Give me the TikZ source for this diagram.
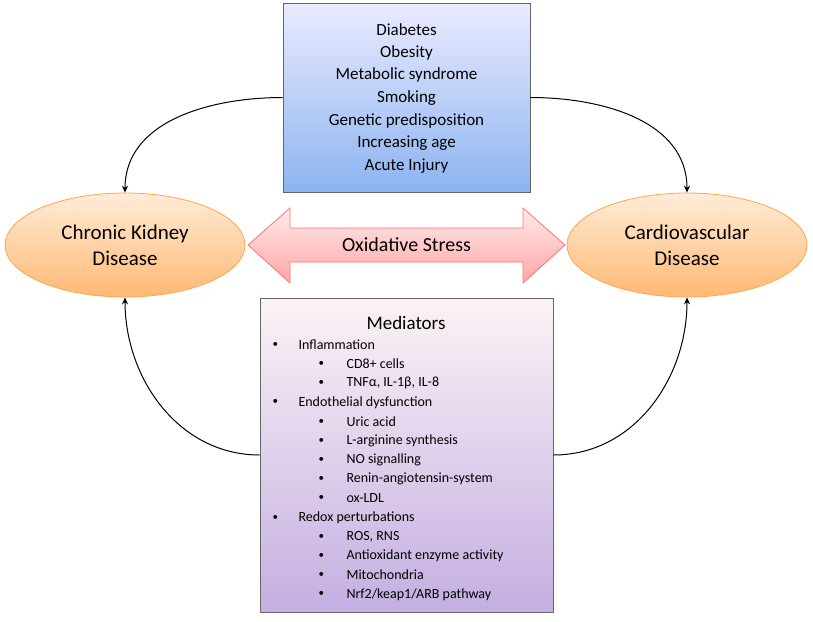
\documentclass[tikz,border=0pt]{standalone}
\usepackage{fontspec}
\setmainfont{Carlito}
\usetikzlibrary{shapes.geometric,arrows.meta}
\definecolor{boxblue}{RGB}{140,180,240}
\definecolor{boxpurple}{RGB}{195,175,225}
\begin{document}
\begin{tikzpicture}[x=1pt, y=-1pt]
    \tikzstyle{disease} = [ellipse, draw=orange!70!white, top color=orange!15, bottom color=orange!55, minimum width=240pt, minimum height=104pt, align=center, font=\fontsize{21}{26}\selectfont, line width=0.8pt]
    \tikzstyle{panel} = [rectangle, draw=gray!80!black, line width=0.6pt]
    \tikzstyle{link} = [-{Stealth[length=7pt,width=6pt]}, line width=1pt]
    \tikzstyle{itema} = [anchor=west, font=\fontsize{14}{16}\selectfont]
    \useasboundingbox (0,0) rectangle (813,621);

    \node (risk) [panel, minimum width=247pt, minimum height=189pt, top color=blue!8, bottom color=boxblue] at (406.5,97.5) {};
    \foreach \txt [count=\i] in {Diabetes, Obesity, Metabolic syndrome, Smoking, Genetic predisposition, Increasing age, Acute Injury}
        \node (r\i) [font=\fontsize{17}{19}\selectfont] at (406.5, 7.5+22.6*\i) {\txt};

    \node (ckd) [disease] at (125,245) {Chronic Kidney\\Disease};
    \node (cvd) [disease] at (687,245) {Cardiovascular\\Disease};

    % oxidative stress arrow
    \draw [draw=red!55!white, top color=red!8, bottom color=red!35, line width=0.8pt]
        (248,245) -- (290,208) -- (290,228) -- (523,228) -- (523,208) -- (565,245)
        -- (523,283) -- (523,262) -- (290,262) -- (290,283) -- cycle;
    \node (oxt) [font=\fontsize{20}{24}\selectfont] at (406.5,245) {Oxidative Stress};

    \node (med) [panel, minimum width=293pt, minimum height=314pt, top color=purple!5!white, bottom color=boxpurple] at (406.5,455) {};
    \node (medt) [font=\fontsize{19}{22}\selectfont] at (406,323) {Mediators};
    \foreach \lvl/\txt [count=\i] in {1/Inflammation, 2/CD8+ cells, 2/{TNFα, IL-1β, IL-8}, 1/Endothelial dysfunction, 2/Uric acid, 2/L-arginine synthesis, 2/NO signalling, 2/Renin-angiotensin-system, 2/ox-LDL, 1/Redox perturbations, 2/{ROS, RNS}, 2/Antioxidant enzyme activity, 2/Mitochondria, 2/{Nrf2/keap1/ARB pathway}}
    {
        \pgfmathsetmacro{\bx}{\lvl==1 ? 272 : 318}
        \pgfmathsetmacro{\tx}{\lvl==1 ? 298 : 346}
        \node (b\i) [itema, font=\fontsize{11}{13}\selectfont] at (\bx-3, 325.5+19.2*\i) {\textbullet};
        \node (m\i) [itema] at (\tx-3, 325.5+19.2*\i) {\txt};
    }

    \draw [link] (risk.west) to[out=180, in=90] (ckd.north);
    \draw [link] (risk.east) to[out=0, in=90] (cvd.north);
    \draw [link] (med.west) to[out=180, in=270] (ckd.south);
    \draw [link] (med.east) to[out=0, in=270] (cvd.south);
\end{tikzpicture}
\end{document}
